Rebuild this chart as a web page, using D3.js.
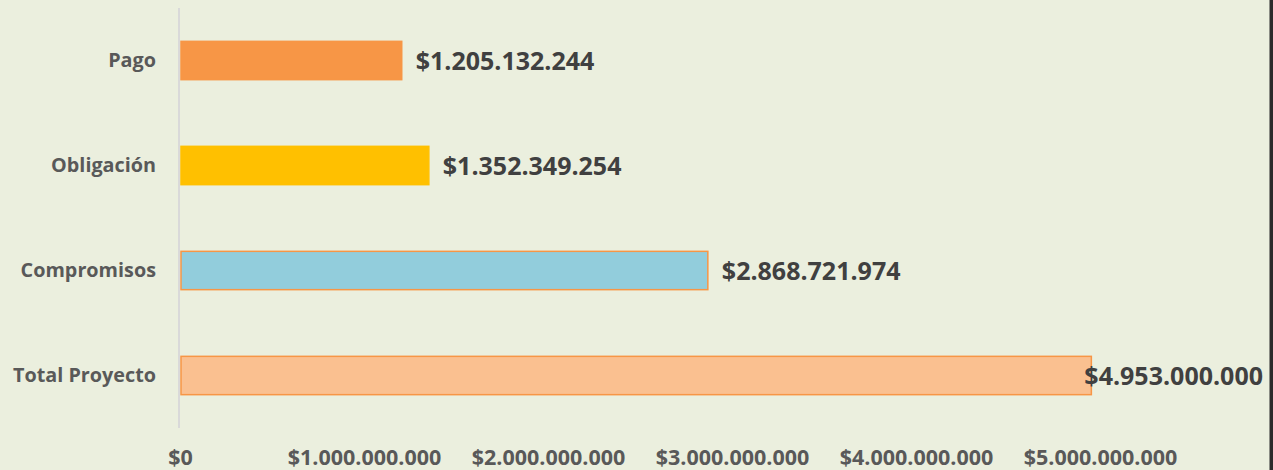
<!DOCTYPE html>
<html><head><meta charset="utf-8">
<script src="https://cdn.jsdelivr.net/npm/d3@7"></script>
<style>
html,body{margin:0;padding:0;background:#EBEFDE;}
svg{display:block;}
</style></head>
<body>
<svg id="chart" width="1273" height="470"></svg>
<script>
const categories = ["Pago", "Obligación", "Compromisos", "Total Proyecto"];
const values = [1205132244, 1352349254, 2868721974, 4953000000];
const fills = ["#F79646", "#FFC000", "#92CDDC", "#FAC090"];
const strokes = ["#F79646", "#FFC000", "#F79646", "#F79646"];
const tickValues = [0, 1000000000, 2000000000, 3000000000, 4000000000, 5000000000];
const tickLabels = ["$0", "$1.000.000.000", "$2.000.000.000", "$3.000.000.000", "$4.000.000.000", "$5.000.000.000"];

const W = 1273, H = 470;
const svg = d3.select("#chart");
const font = "'Open Sans', 'Liberation Sans', sans-serif";

svg.append("rect").attr("x",0).attr("y",0).attr("width",W).attr("height",H).attr("fill","#EBEFDE");
svg.append("rect").attr("x",1269.5).attr("y",0).attr("width",3.5).attr("height",H).attr("fill","#2b2b2b");

const x = d3.scaleLinear().domain([0, 5000000000]).range([180, 1100]);
const y = d3.scaleBand().domain(categories).range([8, 428]).paddingInner(0.635).paddingOuter(0.3175);

const fmt = d => tickLabels[tickValues.indexOf(d)];

// x axis labels
const xAxis = d3.axisBottom(x).tickValues(tickValues).tickFormat(fmt).tickSize(0).tickPadding(0);
const gx = svg.append("g").attr("transform","translate(0,450)").call(xAxis);
gx.select(".domain").remove();
gx.selectAll("text").attr("font-family",font).attr("font-weight","bold").attr("font-size","21.5px").attr("fill","#595959").attr("dy","0.72em");

// y axis
const yAxis = d3.axisLeft(y).tickSize(0).tickPadding(23);
const gy = svg.append("g").attr("transform","translate(179,0)").call(yAxis);
gy.select(".domain").remove();
gy.selectAll("text").attr("font-family",font).attr("font-weight","bold").attr("font-size","19.8px").attr("fill","#595959");
svg.append("line").attr("x1",179).attr("x2",179).attr("y1",8).attr("y2",428).attr("stroke","#D9D9D9").attr("stroke-width",2);

// bars
svg.selectAll("rect.bar").data(categories).enter().append("rect").attr("class","bar")
  .attr("x", x(0)+1)
  .attr("y", d => y(d))
  .attr("width", (d,i) => x(values[i]) - x(0) - 1)
  .attr("height", y.bandwidth())
  .attr("fill", (d,i) => fills[i])
  .attr("stroke", (d,i) => strokes[i])
  .attr("stroke-width", 1.5);

// value labels
const fmtVal = v => "$" + d3.format(",")(v).replace(/,/g, ".");
svg.selectAll("text.val").data(categories).enter().append("text").attr("class","val")
  .attr("font-family",font).attr("font-weight","bold").attr("font-size","25px").attr("fill","#404040")
  .attr("y", d => y(d) + y.bandwidth()/2)
  .attr("dy","0.36em")
  .text((d,i) => fmtVal(values[i]))
  .attr("x", function(d,i){
    const w = this.getComputedTextLength();
    return Math.min(x(values[i]) + 14, 1263 - w);
  });
</script>
</body></html>
